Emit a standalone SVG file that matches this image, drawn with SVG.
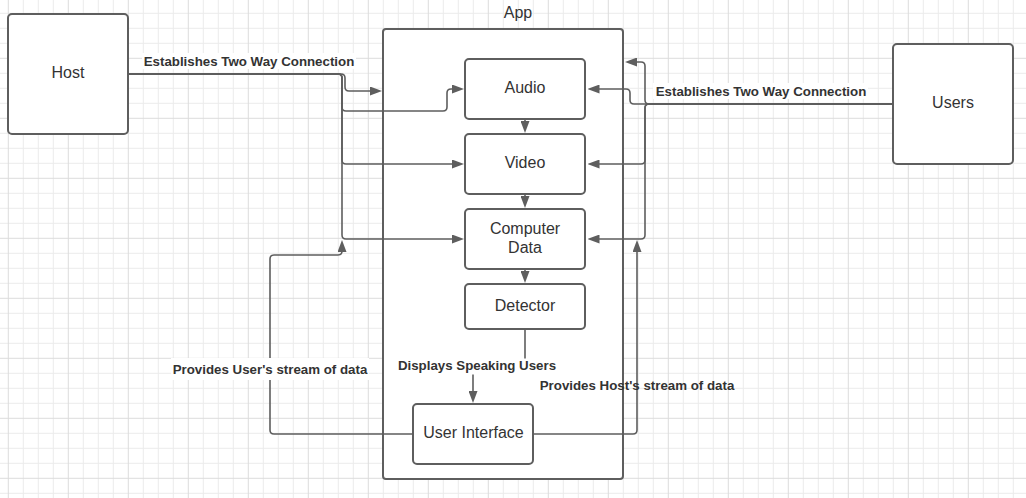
<svg xmlns="http://www.w3.org/2000/svg" width="1026" height="498" viewBox="0 0 1026 498">
<style>
.box{fill:#ffffff;stroke:#5e5e5e;stroke-width:2}
.ln{fill:none;stroke:#5e5e5e;stroke-width:1.6}
.arr{marker-end:url(#ah)}
.nt{font-family:"Liberation Sans",Arial,sans-serif;font-size:16px;fill:#333333;text-anchor:middle}
.lt{font-family:"Liberation Sans",Arial,sans-serif;font-size:13.3px;font-weight:bold;fill:#333333;text-anchor:middle}
.bg{fill:#ffffff}
</style>
<defs>
<pattern id="grid" patternUnits="userSpaceOnUse" x="7.8" y="-2.2" width="60" height="60">
<rect x="15" y="0" width="1" height="60" fill="#ebebeb"/>
<rect x="30" y="0" width="1" height="60" fill="#ebebeb"/>
<rect x="45" y="0" width="1" height="60" fill="#ebebeb"/>
<rect x="0" y="15" width="60" height="1" fill="#ebebeb"/>
<rect x="0" y="30" width="60" height="1" fill="#ebebeb"/>
<rect x="0" y="45" width="60" height="1" fill="#ebebeb"/>
<rect x="0" y="0" width="1" height="60" fill="#dcdcdc"/>
<rect x="0" y="0" width="60" height="1" fill="#dcdcdc"/>
</pattern>
<marker id="ah" markerUnits="userSpaceOnUse" markerWidth="12" markerHeight="9" viewBox="0 0 12 9" refX="9" refY="4.5" orient="auto">
<path d="M0,0 L12,4.5 L0,9 z" fill="#5e5e5e"/>
</marker>
</defs>
<rect x="0" y="0" width="1026" height="498" fill="#ffffff"/>
<rect x="0" y="0" width="1026" height="498" fill="url(#grid)"/>

<g id="app">
<rect class="box" x="383" y="29" width="240" height="450" rx="3"/>
<text class="nt" x="518" y="17.7">App</text>
</g>
<g id="host">
<rect class="box" x="8" y="14" width="120" height="120" rx="4"/>
<text class="nt" x="68" y="77.7">Host</text>
</g>
<g id="users">
<rect class="box" x="893" y="44" width="120" height="120" rx="4"/>
<text class="nt" x="953" y="107.5">Users</text>
</g>
<g id="audio">
<rect class="box" x="465" y="59" width="120" height="60" rx="4"/>
<text class="nt" x="525" y="92.7">Audio</text>
</g>
<g id="video">
<rect class="box" x="465" y="134" width="120" height="60" rx="4"/>
<text class="nt" x="525" y="167.7">Video</text>
</g>
<g id="computer-data">
<rect class="box" x="465" y="209" width="120" height="60" rx="4"/>
<text class="nt" x="525" y="234">Computer</text>
<text class="nt" x="525" y="253.3">Data</text>
</g>
<g id="detector">
<rect class="box" x="465" y="284" width="120" height="45" rx="4"/>
<text class="nt" x="525" y="310.7">Detector</text>
</g>
<g id="user-interface">
<rect class="box" x="413" y="404" width="120" height="60" rx="4"/>
<text class="nt" x="473.5" y="437.7">User Interface</text>
</g>

<g id="connectors">
<path class="ln arr" d="M128,74 H341 Q345,74 345,78 V87 Q345,91 349,91 H379"/>
<path class="ln arr" d="M128,74 H338 Q342,74 342,78 V107 Q342,111 346,111 H443 Q447,111 447,107 V93 Q447,89 451,89 H461"/>
<path class="ln arr" d="M128,74 H338 Q342,74 342,78 V160 Q342,164 346,164 H461"/>
<path class="ln arr" d="M128,74 H338 Q342,74 342,78 V235 Q342,239 346,239 H461"/>

<path class="ln arr" d="M893,104 H649 Q645,104 645,100 V66 Q645,62 641,62 H628"/>
<path class="ln arr" d="M893,104 H634 Q630,104 630,100 V93 Q630,89 626,89 H590.5"/>
<path class="ln arr" d="M893,104 H649 Q645,104 645,108 V160 Q645,164 641,164 H590.5"/>
<path class="ln arr" d="M893,104 H649 Q645,104 645,108 V235 Q645,239 641,239 H590.5"/>

<path class="ln arr" d="M525,120 V130"/>
<path class="ln arr" d="M525,195 V205"/>
<path class="ln arr" d="M525,270 V280"/>
<path class="ln arr" d="M525,329 V366 H473 V400"/>

<path class="ln arr" d="M413,434 H274 Q270,434 270,430 V259 Q270,255 274,255 H338 Q342,255 342,251 V243"/>
<path class="ln arr" d="M533,434 H633 Q637,434 637,430 V243"/>
</g>

<g id="labels">
<rect class="bg" x="142" y="53" width="214" height="16"/>
<text class="lt" x="249" y="66">Establishes Two Way Connection</text>
<rect class="bg" x="653" y="83" width="215" height="16"/>
<text class="lt" x="761" y="96">Establishes Two Way Connection</text>
<rect class="bg" x="171" y="358" width="198" height="22"/>
<text class="lt" x="270" y="373.5">Provides User's stream of data</text>
<rect class="bg" x="396" y="358.5" width="162" height="16"/>
<text class="lt" x="477" y="370">Displays Speaking Users</text>
<text class="lt" x="637" y="390">Provides Host's stream of data</text>
</g>
</svg>
